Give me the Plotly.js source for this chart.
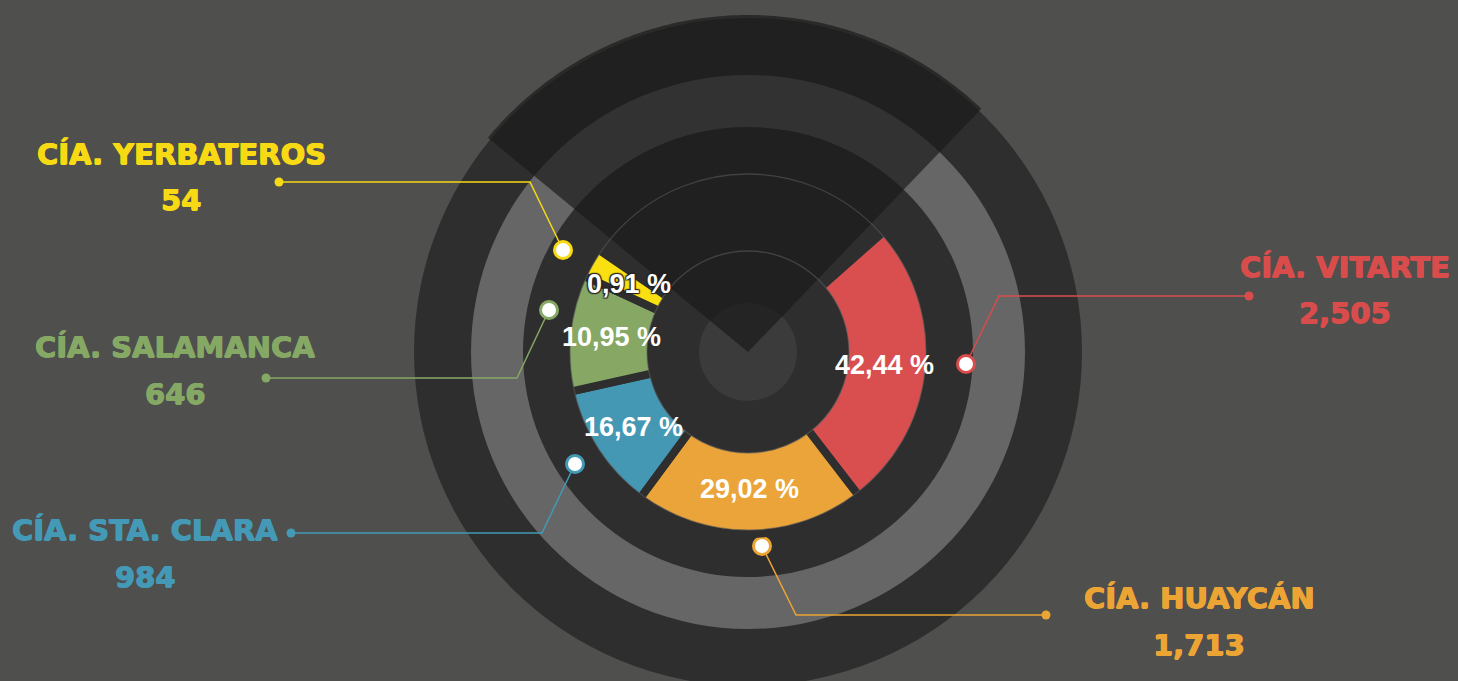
<!DOCTYPE html>
<html>
<head>
<meta charset="utf-8">
<script src="https://cdn.plot.ly/plotly-3.0.1.min.js"></script>
<style>
html,body{margin:0;padding:0;background:#4f4f4d;overflow:hidden;}
#chart{width:1458px;height:681px;}
</style>
</head>
<body>
<div id="chart"></div>
<script>
// ---------------- DATA ----------------
const companies = ['CÍA. VITARTE', 'CÍA. HUAYCÁN', 'CÍA. STA. CLARA', 'CÍA. SALAMANCA', 'CÍA. YERBATEROS'];
const counts = [2505, 1713, 984, 646, 54];
const countLabels = ['2,505', '1,713', '984', '646', '54'];
const percentLabels = ['42,44 %', '29,02 %', '16,67 %', '10,95 %', '0,91 %'];
// angular share (degrees of the ring) that each slice occupies in the reference drawing
const sliceArc = [94, 74, 41, 37.5, 9.5];

// ---------------- STYLE ----------------
const sliceColors = ['#d94f4f', '#eba43a', '#4598b3', '#86a864', '#fbe011'];
const textColors = ['#d94c4c', '#eca535', '#4499b6', '#86a865', '#f7d914'];
const nameFont = 'DejaVu Sans, Open Sans, sans-serif';

// ---------------- LAYOUT GEOMETRY ----------------
const W = 1458, H = 681, CX = 748, CY = 352;
const R = {outer: 334, gray: 277, inner: 225, ringOut: 178, ringIn: 101, core: 49, wedge: 337, label: 137};
const wedgeFrom = -50.5, wedgeTo = 43.8, startAngle = 48.4, gap = 8;
// callout geometry: anchor dot, elbow, end dot, label centre x, name y, value y
const callouts = [
  {anchor: [966, 364], elbow: [999, 296], end: [1249, 296], lx: 1345, ny: 267, vy: 313},
  {anchor: [762, 546], elbow: [796, 615], end: [1046, 615], lx: 1199, ny: 598, vy: 645},
  {anchor: [575, 464], elbow: [542, 533], end: [291, 533], lx: 145, ny: 530, vy: 577},
  {anchor: [549, 310], elbow: [517, 378], end: [266, 378], lx: 175, ny: 347, vy: 394},
  {anchor: [563, 250], elbow: [530, 182], end: [279, 182], lx: 181, ny: 154, vy: 200}
];

function circle(r, fill, line, layer) {
  return {type: 'circle', xref: 'x', yref: 'y', x0: CX - r, x1: CX + r, y0: CY - r, y1: CY + r,
          fillcolor: fill, line: line || {width: 0}, layer: layer || 'below'};
}
function polar(r, deg) {
  const a = deg * Math.PI / 180;
  return [CX + r * Math.sin(a), CY - r * Math.cos(a)];
}
let wedgePath = 'M ' + CX + ',' + CY;
for (let d = wedgeFrom; d <= wedgeTo + 0.001; d += (wedgeTo - wedgeFrom) / 120) {
  const p = polar(R.wedge, d);
  wedgePath += ' L ' + p[0].toFixed(2) + ',' + p[1].toFixed(2);
}
wedgePath += ' Z';

const shapes = [
  circle(R.outer, '#2e2e2e'),
  circle(R.gray, '#666666'),
  circle(R.inner, '#2e2e2e'),
  circle(R.core, '#3b3b3b'),
  {type: 'path', xref: 'x', yref: 'y', path: wedgePath, fillcolor: 'rgba(24,25,24,0.67)', line: {width: 0}, layer: 'below'},
  circle(R.ringOut, 'rgba(0,0,0,0)', {color: 'rgba(95,95,95,0.55)', width: 1.3}, 'above'),
  circle(R.ringIn, 'rgba(0,0,0,0)', {color: 'rgba(95,95,95,0.55)', width: 1.3}, 'above')
];

const arcTotal = sliceArc.reduce((a, b) => a + b, 0);
const pieR = R.ringOut + gap / 2;
const traces = [];

traces.push({
  type: 'pie',
  values: sliceArc.concat([360 - arcTotal]),
  labels: companies.concat(['']),
  customdata: counts.concat([null]),
  sort: false,
  direction: 'clockwise',
  rotation: startAngle,
  hole: (R.ringIn - gap / 2) / pieR,
  domain: {x: [(CX - pieR) / W, (CX + pieR) / W], y: [1 - (CY + pieR) / H, 1 - (CY - pieR) / H]},
  marker: {colors: sliceColors.concat(['rgba(0,0,0,0)']),
           line: {color: '#2e2e2e', width: [gap, gap, gap, gap, gap, 0]}},
  textinfo: 'none',
  hoverinfo: 'skip',
  showlegend: false
});

const annotations = [];
let cum = startAngle;
companies.forEach((name, i) => {
  const c = callouts[i];
  // percentage label at the middle of its slice
  const mid = cum + sliceArc[i] / 2;
  cum += sliceArc[i];
  const lp = polar(R.label, mid);
  annotations.push({
    xref: 'x', yref: 'y', x: lp[0], y: lp[1], text: percentLabels[i], showarrow: false,
    xanchor: 'center', yanchor: 'middle',
    font: {family: 'Liberation Sans, Arial, sans-serif', size: 27, color: '#ffffff', weight: 'bold',
           shadow: i === 4 ? '1px 1px 1px #222, -1px -1px 1px #222, 1px -1px 1px #222, -1px 1px 1px #222' : 'none'}
  });
  traces.push({
    type: 'scatter', mode: 'lines', xaxis: 'x', yaxis: 'y',
    x: [c.end[0], c.elbow[0], c.anchor[0]], y: [c.end[1], c.elbow[1], c.anchor[1]],
    line: {color: textColors[i], width: 1.5}, hoverinfo: 'skip', showlegend: false
  });
  traces.push({
    type: 'scatter', mode: 'markers', x: [c.end[0]], y: [c.end[1]],
    marker: {size: 9, color: textColors[i], line: {width: 0}}, hoverinfo: 'skip', showlegend: false
  });
  traces.push({
    type: 'scatter', mode: 'markers', x: [c.anchor[0]], y: [c.anchor[1]],
    marker: {size: 17, color: '#ffffff', line: {width: 3, color: textColors[i]}}, hoverinfo: 'skip', showlegend: false
  });
  const thick = '0.6px 0 0 ' + textColors[i] + ', -0.6px 0 0 ' + textColors[i] + ', 0 0.5px 0 ' + textColors[i];
  annotations.push({
    xref: 'x', yref: 'y', x: c.lx, y: c.ny, text: name, showarrow: false,
    xanchor: 'center', yanchor: 'middle',
    font: {family: nameFont, size: 29, color: textColors[i], weight: 'bold', shadow: thick}
  });
  annotations.push({
    xref: 'x', yref: 'y', x: c.lx, y: c.vy, text: countLabels[i], showarrow: false,
    xanchor: 'center', yanchor: 'middle',
    font: {family: nameFont, size: 29, color: textColors[i], weight: 'bold', shadow: thick}
  });
});

const layout = {
  width: W, height: H,
  margin: {l: 0, r: 0, t: 0, b: 0, pad: 0},
  paper_bgcolor: '#4f4f4d', plot_bgcolor: 'rgba(0,0,0,0)',
  xaxis: {range: [0, W], visible: false, fixedrange: true, showgrid: false, zeroline: false},
  yaxis: {range: [H, 0], visible: false, fixedrange: true, showgrid: false, zeroline: false},
  shapes: shapes,
  annotations: annotations,
  showlegend: false
};

Plotly.newPlot('chart', traces, layout, {displayModeBar: false, staticPlot: true});
</script>
</body>
</html>
